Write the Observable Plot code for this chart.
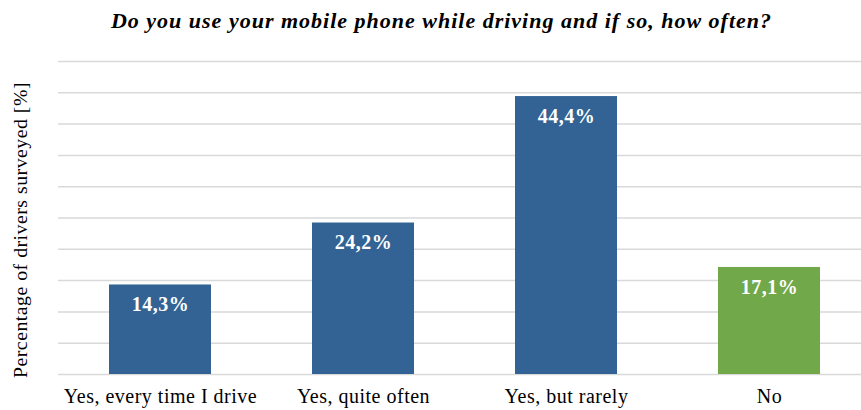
<!DOCTYPE html>
<html>
<head>
<meta charset="utf-8">
<script src="https://cdn.jsdelivr.net/npm/d3@7"></script>
<script src="https://cdn.jsdelivr.net/npm/@observablehq/plot@0.6"></script>
<style>
  body { margin: 0; background: #fff; }
  #title { height: 46px; line-height: 41px; font-family: "Liberation Serif", "Times New Roman", serif; font-size: 22px; font-weight: bold; font-style: italic; letter-spacing: 1px; text-align: center; padding-left: 22px; color: #000; white-space: nowrap; }
  #chart svg text { letter-spacing: 0.5px; }
</style>
</head>
<body>
<div id="title">Do you use your mobile phone while driving and if so, how often?</div>
<div id="chart"></div>
<script>
const categories = ["Yes, every time I drive", "Yes, quite often", "Yes, but rarely", "No"];
const values = [14.3, 24.2, 44.4, 17.1];
const colors = ["#336394", "#336394", "#336394", "#70a84a"];
const yTicks = [0, 5, 10, 15, 20, 25, 30, 35, 40, 45, 50];
const yLabel = "Percentage of drivers surveyed [%]";

const data = categories.map((c, i) => ({category: c, value: values[i], color: colors[i]}));
const fmt = v => v.toFixed(1).replace(".", ",") + "%";
const font = "'Liberation Serif', 'Times New Roman', serif";

const chart = Plot.plot({
  width: 861,
  height: 364,
  marginTop: 15,
  marginBottom: 36,
  marginLeft: 58,
  marginRight: 0,
  style: {fontFamily: font, background: "#fff"},
  x: {domain: categories, range: [58, 871], paddingInner: 0.5, paddingOuter: 0.25, label: null},
  y: {domain: [0, 50], label: null, axis: null},
  marks: [
    Plot.ruleY(yTicks, {stroke: "#d9d9d9", strokeWidth: 1.5}),
    Plot.barY(data, {x: "category", y: "value", fill: "color"}),
    Plot.text(data, {x: "category", y: "value", text: d => fmt(d.value), dy: 20, fill: "#fff", fontWeight: "bold", fontSize: 20, fontFamily: font}),
    Plot.axisX({tickSize: 0, tickPadding: 14, fontSize: 20, fill: "#000", fontFamily: font}),
    Plot.text([yLabel], {frameAnchor: "left", textAnchor: "middle", rotate: -90, dx: -38, dy: 12, fontSize: 19.8, fill: "#000", fontFamily: font})
  ]
});
document.getElementById("chart").appendChild(chart);
</script>
</body>
</html>
